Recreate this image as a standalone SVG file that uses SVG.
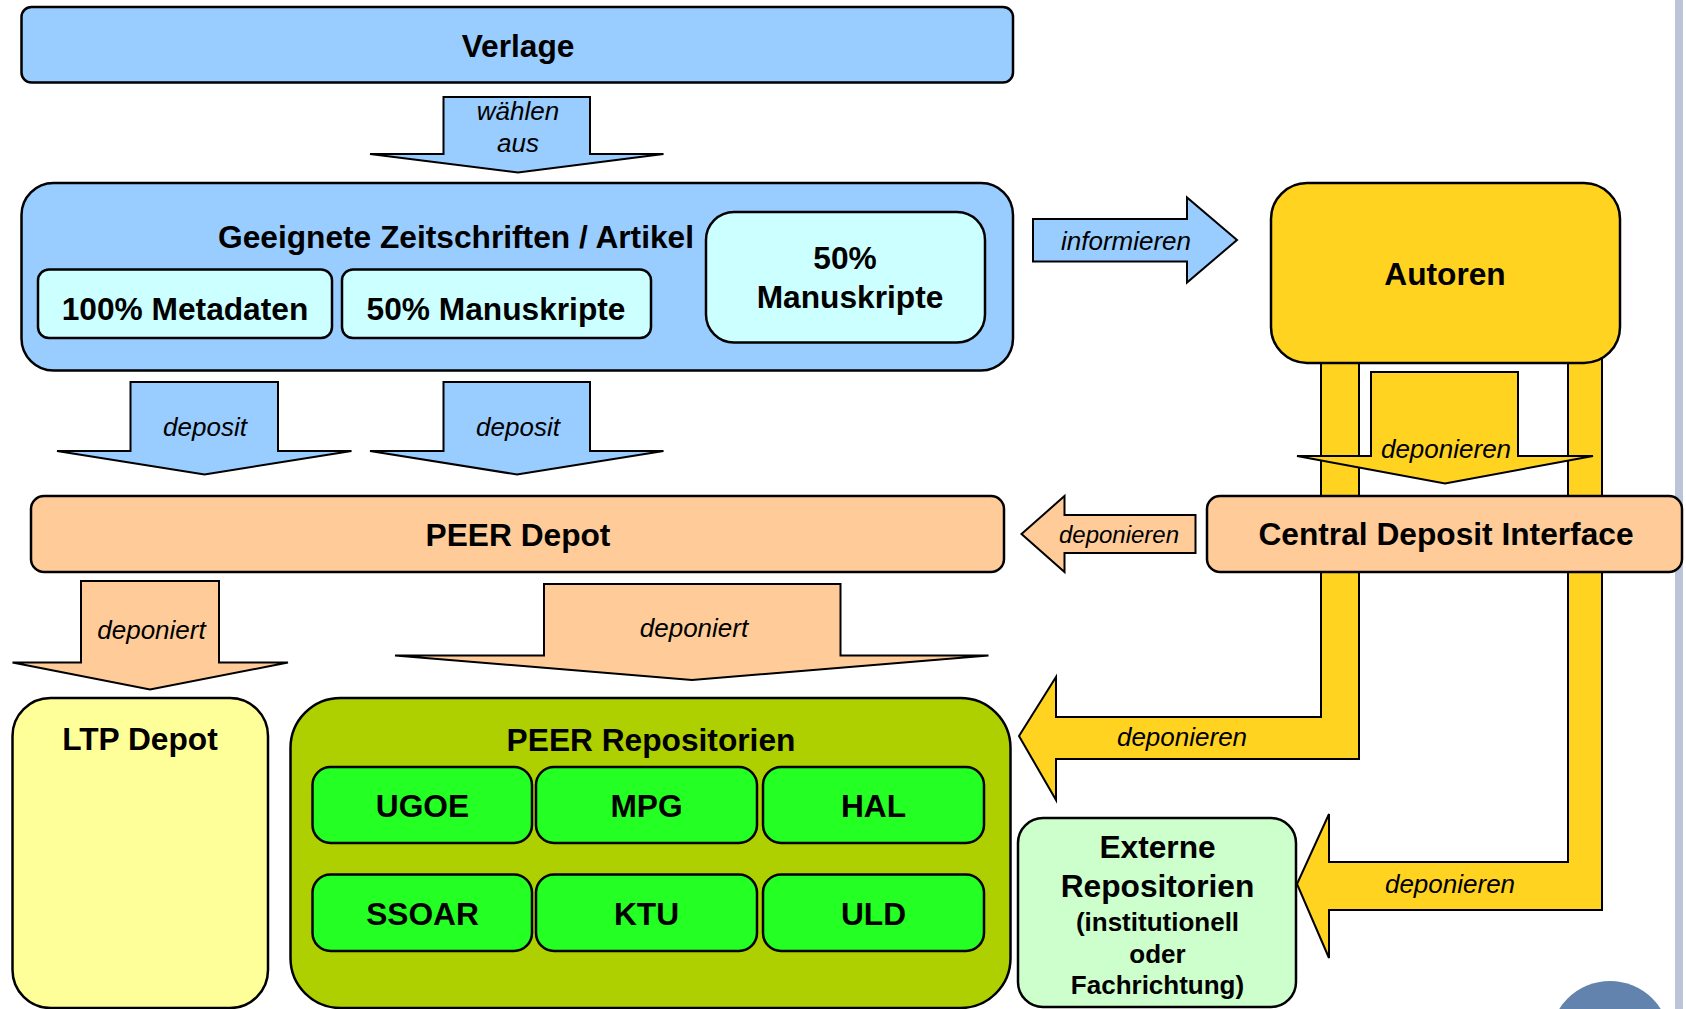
<svg xmlns="http://www.w3.org/2000/svg" width="1686" height="1009" viewBox="0 0 1686 1009">
<style>
  .box { stroke: #000; stroke-width: 2.5; }
  .arr { stroke: #000; stroke-width: 2; stroke-linejoin: miter; }
  .blue { fill: #99CCFF; }
  .cyan { fill: #CCFFFF; }
  .peach { fill: #FFCC99; }
  .gold { fill: #FFD320; }
  .lyellow { fill: #FFFF99; }
  .olive { fill: #AECF00; }
  .green { fill: #24FF24; }
  .lgreen { fill: #CCFFCC; }
  text { font-family: "Liberation Sans", Arial, sans-serif; fill: #000; text-anchor: middle; }
  .t { font-weight: bold; font-size: 31.7px; }
  .ts { font-weight: bold; font-size: 26px; }
  .lbl { font-style: italic; font-size: 26px; }
  .lbls { font-style: italic; font-size: 24px; }
</style>
<rect x="0" y="0" width="1686" height="1009" fill="#FFFFFF"/>
<rect id="border-strip" x="1675" y="0" width="8" height="1009" fill="#BAC5D9"/>
<circle id="corner-circle" cx="1610" cy="1041" r="60" fill="#6283AE"/>

<g id="connectors">
  <g id="c-waehlen">
    <path class="arr blue" d="M443.5,97 H590 V154 H663.5 L518,172.5 L370,154 H443.5 Z"/>
    <text class="lbl" x="518" y="120">wählen</text>
    <text class="lbl" x="518" y="152">aus</text>
  </g>
  <g id="c-informieren">
    <path class="arr blue" d="M1033,219 H1187 V197.5 L1237,240 L1187,282.5 V261.5 H1033 Z"/>
    <text class="lbl" x="1126" y="250">informieren</text>
  </g>
  <g id="c-deposit1">
    <path class="arr blue" d="M130.5,382 H278 V451 H351.5 L204.5,474.5 L57,451 H130.5 Z"/>
    <text class="lbl" x="205" y="436">deposit</text>
  </g>
  <g id="c-deposit2">
    <path class="arr blue" d="M443.5,382 H590 V451 H663.5 L517,474.5 L370,451 H443.5 Z"/>
    <text class="lbl" x="518" y="436">deposit</text>
  </g>
  <g id="c-deponiert1">
    <path class="arr peach" d="M81,581 H219 V662.5 H288 L150,689.5 L12.5,662.5 H81 Z"/>
    <text class="lbl" x="151.5" y="639">deponiert</text>
  </g>
  <g id="c-deponiert2">
    <path class="arr peach" d="M544,584 H840.5 V655.5 H988.5 L692,680 L395,655.5 H544 Z"/>
    <text class="lbl" x="694" y="637">deponiert</text>
  </g>
  <g id="c-cdi-peer">
    <path class="arr peach" d="M1195.5,515 H1064.5 V496 L1021.5,534 L1064.5,572 V553 H1195.5 Z"/>
    <text class="lbls" x="1119" y="543">deponieren</text>
  </g>
  <g id="c-autoren-peerrepo">
    <path class="arr gold" d="M1321,340 V717 H1056 V677 L1019,736 L1056,800 V759 H1359 V340 Z"/>
    <text class="lbl" x="1182" y="746">deponieren</text>
  </g>
  <g id="c-autoren-extern">
    <path class="arr gold" d="M1568,340 V862 H1329 V814 L1297,884 L1329,958 V910 H1602 V340 Z"/>
    <text class="lbl" x="1450" y="893">deponieren</text>
  </g>
</g>

<g id="verlage">
  <rect class="box blue" x="21.5" y="7" width="991.5" height="75.5" rx="10"/>
  <text class="t" x="518" y="57">Verlage</text>
</g>

<g id="geeignete">
  <rect class="box blue" x="21.5" y="183" width="991.5" height="187.5" rx="32"/>
  <text class="t" x="456" y="248">Geeignete Zeitschriften / Artikel</text>
</g>
<g id="metadaten">
  <rect class="box cyan" x="38" y="269.5" width="294" height="68.5" rx="11"/>
  <text class="t" x="185" y="320">100% Metadaten</text>
</g>
<g id="manuskripte1">
  <rect class="box cyan" x="342" y="269.5" width="309" height="68.5" rx="11"/>
  <text class="t" x="496" y="320">50% Manuskripte</text>
</g>
<g id="manuskripte2">
  <rect class="box cyan" x="706" y="212" width="279" height="130.5" rx="28"/>
  <text class="t" x="845" y="269">50%</text>
  <text class="t" x="850" y="308">Manuskripte</text>
</g>

<g id="autoren">
  <rect class="box gold" x="1271" y="183" width="349" height="180" rx="36"/>
  <text class="t" x="1445" y="285">Autoren</text>
</g>

<g id="c-autoren-cdi">
  <path class="arr gold" d="M1371,372 H1518 V456 H1593 L1445,483.5 L1297,456 H1371 Z"/>
  <text class="lbl" x="1446" y="458">deponieren</text>
</g>

<g id="peer-depot">
  <rect class="box peach" x="31" y="496" width="973" height="76" rx="13"/>
  <text class="t" x="518" y="546">PEER Depot</text>
</g>

<g id="cdi">
  <rect class="box peach" x="1207" y="496" width="475" height="76" rx="13"/>
  <text class="t" x="1446" y="545">Central Deposit Interface</text>
</g>

<g id="ltp-depot">
  <rect class="box lyellow" x="12.5" y="698" width="255.5" height="310" rx="38"/>
  <text class="t" x="140" y="750">LTP Depot</text>
</g>

<g id="peer-repositorien">
  <rect class="box olive" x="290.5" y="698" width="720" height="310" rx="50"/>
  <text class="t" x="651" y="751">PEER Repositorien</text>
</g>
<g id="ugoe">
  <rect class="box green" x="312.5" y="767" width="219.5" height="76" rx="18"/>
  <text class="t" x="422.5" y="817">UGOE</text>
</g>
<g id="mpg">
  <rect class="box green" x="536" y="767" width="221" height="76" rx="18"/>
  <text class="t" x="646.5" y="817">MPG</text>
</g>
<g id="hal">
  <rect class="box green" x="763" y="767" width="221" height="76" rx="18"/>
  <text class="t" x="873.5" y="817">HAL</text>
</g>
<g id="ssoar">
  <rect class="box green" x="312.5" y="874.5" width="219.5" height="76.5" rx="18"/>
  <text class="t" x="422.5" y="925">SSOAR</text>
</g>
<g id="ktu">
  <rect class="box green" x="536" y="874.5" width="221" height="76.5" rx="18"/>
  <text class="t" x="646.5" y="925">KTU</text>
</g>
<g id="uld">
  <rect class="box green" x="763" y="874.5" width="221" height="76.5" rx="18"/>
  <text class="t" x="873.5" y="925">ULD</text>
</g>

<g id="externe-repositorien">
  <rect class="box lgreen" x="1018" y="818" width="278" height="189" rx="25"/>
  <text class="t" x="1157.5" y="858">Externe</text>
  <text class="t" x="1157.5" y="897">Repositorien</text>
  <text class="ts" x="1157.5" y="931">(institutionell</text>
  <text class="ts" x="1157.5" y="963">oder</text>
  <text class="ts" x="1157.5" y="994">Fachrichtung)</text>
</g>
</svg>
